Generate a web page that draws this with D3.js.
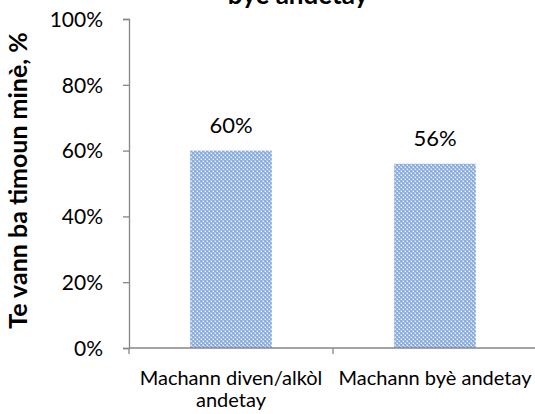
<!DOCTYPE html>
<meta charset="utf-8">
<style>
    body { margin: 0; background: #fff; }
    text { font-family: Lato, "Open Sans", sans-serif; fill: #000; }
    .axis path, .axis line { stroke: #868686; stroke-width: 1.3; }
</style>
<body></body>
<script src="https://d3js.org/d3.v7.min.js"></script>
<script>
    // data
    var categories = ["Machann diven/alkòl andetay", "Machann byè andetay"];
    var catLines = [["Machann diven/alkòl", "andetay"], ["Machann byè andetay"]];
    var values = [0.60, 0.56];
    var valueLabels = ["60%", "56%"];
    var yTicks = [0, 0.2, 0.4, 0.6, 0.8, 1.0];
    var titleLast = "byè andetay";
    var yTitle = "Te vann ba timoun minè, %";

    var width = 535, height = 414;
    var plotLeft = 129, plotRight = 537, plotTop = 19, plotBottom = 348;

    var svg = d3.select("body").append("svg")
        .attr("width", width)
        .attr("height", height);

    // checkered fill like the original
    var pat = svg.append("defs").append("pattern")
        .attr("id", "chk")
        .attr("patternUnits", "userSpaceOnUse")
        .attr("width", 4).attr("height", 4);
    pat.append("rect").attr("width", 4).attr("height", 4).attr("fill", "#aec6ea");
    pat.append("rect").attr("width", 2).attr("height", 2).attr("fill", "#8badde");
    pat.append("rect").attr("x", 2).attr("y", 2).attr("width", 2).attr("height", 2).attr("fill", "#8badde");
    pat.append("rect").attr("x", 3).attr("y", 1).attr("width", 1).attr("height", 1).attr("fill", "#eef3fb");
    pat.append("rect").attr("x", 1).attr("y", 3).attr("width", 1).attr("height", 1).attr("fill", "#eef3fb");

    var x = d3.scaleBand()
        .domain(categories)
        .range([plotLeft, plotRight])
        .paddingInner(0.6)
        .paddingOuter(0.3);

    var y = d3.scaleLinear()
        .domain([0, 1])
        .range([plotBottom, plotTop]);

    // bars
    svg.selectAll(".bar")
        .data(values)
        .enter().append("rect")
        .attr("class", "bar")
        .attr("x", function(d, i) { return x(categories[i]); })
        .attr("y", function(d) { return y(d); })
        .attr("width", x.bandwidth())
        .attr("height", function(d) { return y(0) - y(d); })
        .attr("fill", "url(#chk)");

    // y axis
    var yAxis = svg.append("g")
        .attr("class", "axis")
        .attr("transform", "translate(" + plotLeft + ",0)")
        .call(d3.axisLeft(y).tickValues(yTicks).tickFormat(d3.format(".0%")).tickSize(6).tickPadding(20));
    yAxis.selectAll("text").style("font-size", "21px").attr("dy", "0.35em");

    // x axis, ticks between categories
    var xAxis = svg.append("g")
        .attr("class", "axis")
        .attr("transform", "translate(0," + plotBottom + ")");
    xAxis.append("line").attr("x1", plotLeft).attr("x2", plotRight);
    var step = x.step();
    xAxis.selectAll(".tk")
        .data(d3.range(categories.length + 1))
        .enter().append("line")
        .attr("x1", function(d) { return plotLeft + d * step; })
        .attr("x2", function(d) { return plotLeft + d * step; })
        .attr("y1", 0).attr("y2", 6);

    // category labels
    svg.selectAll(".cat")
        .data(catLines)
        .enter().append("text")
        .attr("class", "cat")
        .attr("text-anchor", "middle")
        .style("font-size", "20px")
        .each(function(lines, i) {
            var cx = x(categories[i]) + x.bandwidth() / 2;
            d3.select(this).selectAll("tspan")
                .data(lines)
                .enter().append("tspan")
                .attr("x", cx)
                .attr("y", function(d, j) { return 385 + j * 22; })
                .text(function(d) { return d; });
        });

    // value labels
    svg.selectAll(".val")
        .data(values)
        .enter().append("text")
        .attr("class", "val")
        .attr("text-anchor", "middle")
        .style("font-size", "22px")
        .attr("x", function(d, i) { return x(categories[i]) + x.bandwidth() / 2; })
        .attr("y", function(d) { return y(d) - 18; })
        .text(function(d, i) { return valueLabels[i]; });

    // y title
    svg.append("text")
        .attr("transform", "translate(27," + ((plotTop + plotBottom) / 2 - 3) + ") rotate(-90)")
        .attr("text-anchor", "middle")
        .style("font-size", "25px")
        .style("font-weight", "bold")
        .text(yTitle);

    // chart title, only its last line shows in the frame
    svg.append("text")
        .attr("x", 298)
        .attr("y", 4)
        .attr("text-anchor", "middle")
        .style("font-size", "26px")
        .style("font-weight", "bold")
        .text(titleLast);
</script>
